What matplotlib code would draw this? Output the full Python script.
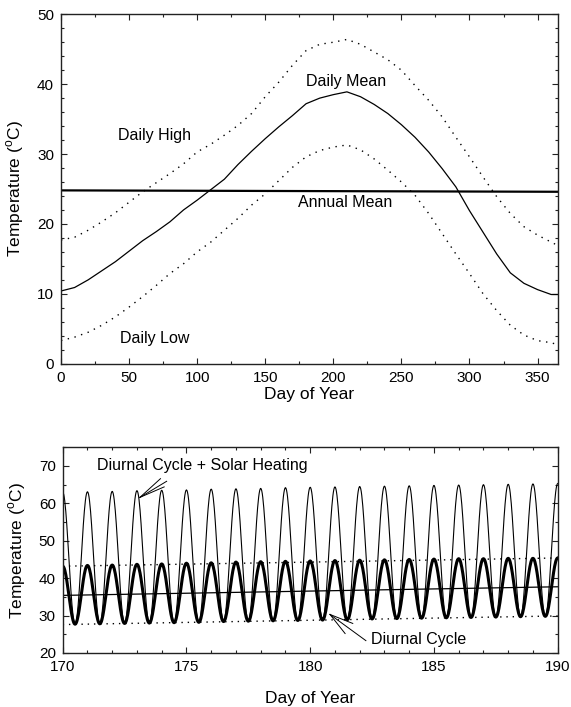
import numpy as np
import matplotlib.pyplot as plt
from matplotlib.ticker import MultipleLocator

plt.rcParams['font.family'] = ['Liberation Sans', 'DejaVu Sans']
plt.rcParams['mathtext.fontset'] = 'custom'
plt.rcParams['mathtext.rm'] = 'Liberation Sans'

# annual cycle (top), values read every 10 days
day = [0, 10, 20, 30, 40, 50, 60, 70, 80, 90, 100, 110, 120, 130, 140, 150, 160, 170, 180,
       190, 200, 210, 220, 230, 240, 250, 260, 270, 280, 290, 300, 310, 320, 330, 340, 350, 360, 365]
daily_mean = [10.4, 10.9, 12.0, 13.3, 14.6, 16.1, 17.6, 18.9, 20.3, 22.0, 23.4, 24.9, 26.4,
              28.5, 30.4, 32.2, 33.9, 35.5, 37.2, 38.0, 38.5, 38.9, 38.2, 37.1, 35.8, 34.2,
              32.4, 30.3, 27.9, 25.3, 21.9, 18.8, 15.7, 13.0, 11.5, 10.6, 9.9, 9.9]
daily_high = [17.7, 18.1, 19.1, 20.3, 21.6, 23.1, 24.6, 25.9, 27.2, 28.6, 30.3, 31.4, 32.7,
              34.1, 35.8, 38.2, 40.3, 42.7, 44.8, 45.7, 46.0, 46.4, 45.7, 44.6, 43.5, 42.0,
              39.8, 37.7, 35.3, 32.4, 29.6, 26.7, 23.9, 21.5, 19.6, 18.4, 17.4, 16.9]
daily_low = [3.3, 3.8, 4.5, 5.5, 6.7, 8.1, 9.6, 11.2, 12.9, 14.3, 16.0, 17.4, 19.1, 20.8,
             22.7, 24.3, 26.2, 28.1, 29.6, 30.5, 31.0, 31.3, 30.6, 29.3, 27.7, 26.0, 24.1,
             21.5, 18.6, 15.7, 12.9, 10.0, 7.6, 5.5, 4.1, 3.3, 3.0, 2.7]
annual_day = [0, 365]
annual_mean = [24.8, 24.6]

# diurnal cycle (bottom): peaks at whole days, troughs at half days
peak_day = list(range(170, 191))
trough_day = [d + 0.5 for d in range(170, 190)]
cycle_high = [43.2, 43.4, 43.5, 43.7, 43.8, 44.0, 44.1, 44.3, 44.4, 44.5, 44.6,
              44.7, 44.8, 44.9, 45.0, 45.1, 45.2, 45.2, 45.3, 45.3, 45.4]
cycle_low = [27.7, 27.8, 27.9, 28.0, 28.1, 28.2, 28.4, 28.5, 28.6, 28.7,
             28.8, 28.9, 29.1, 29.2, 29.3, 29.4, 29.5, 29.6, 29.7, 29.8]
solar_high = [63.0, 63.1, 63.2, 63.4, 63.5, 63.6, 63.8, 63.9, 64.0, 64.2, 64.3,
              64.4, 64.5, 64.6, 64.7, 64.8, 64.9, 65.0, 65.1, 65.2, 65.3]
line_day = [170, 190]
high_line = [43.2, 45.4]
low_line = [27.6, 29.9]
mean_line = [35.4, 37.7]


def cos_join(ts, vs, n=24):
    # smooth half-cosine between successive extremes
    xs, ys = [], []
    for i in range(len(ts) - 1):
        s = np.linspace(0, 1, n, endpoint=False)
        w = (1 - np.cos(np.pi * s)) / 2
        xs.append(ts[i] + (ts[i + 1] - ts[i]) * s)
        ys.append(vs[i] + (vs[i + 1] - vs[i]) * w)
    xs.append([ts[-1]])
    ys.append([vs[-1]])
    return np.concatenate(xs), np.concatenate(ys)


ext_t = []
ext_thick = []
ext_thin = []
for i in range(len(peak_day)):
    ext_t.append(peak_day[i])
    ext_thick.append(cycle_high[i])
    ext_thin.append(solar_high[i])
    if i < len(trough_day):
        ext_t.append(trough_day[i])
        ext_thick.append(cycle_low[i])
        ext_thin.append(cycle_low[i])

dot = (0, (1, 4))
ink = '#222222'

fig = plt.figure(figsize=(5.71, 7.07), dpi=100)

ax1 = fig.add_axes([0.1068, 0.4856, 0.8704, 0.4942])
ax1.plot(day, daily_high, color='black', lw=1.0, ls=dot)
ax1.plot(day, daily_low, color='black', lw=1.0, ls=dot)
ax1.plot(day, daily_mean, color='black', lw=0.9)
ax1.plot(annual_day, annual_mean, color='black', lw=1.6)
ax1.set_xlim(0, 365)
ax1.set_ylim(0, 50)
ax1.xaxis.set_major_locator(MultipleLocator(50))
ax1.xaxis.set_minor_locator(MultipleLocator(25))
ax1.yaxis.set_major_locator(MultipleLocator(10))
ax1.yaxis.set_minor_locator(MultipleLocator(2))
ax1.text(42, 32.7, 'Daily High', fontsize=11.5, va='center')
ax1.text(43, 3.6, 'Daily Low', fontsize=11.5, va='center')
ax1.text(209, 40.4, 'Daily Mean', fontsize=11.5, ha='center', va='center')
ax1.text(209, 23.0, 'Annual Mean', fontsize=11.5, ha='center', va='center')
ax1.set_xlabel('Day of Year', fontsize=12.5, labelpad=2)
ax1.set_ylabel(r'Temperature ($^{\rm o}$C)', fontsize=12.5, labelpad=8)

ax2 = fig.add_axes([0.1098, 0.0764, 0.8669, 0.291])
tx, ty = cos_join(ext_t, ext_thin)
ax2.plot(tx, ty, color='black', lw=0.8)
kx, ky = cos_join(ext_t, ext_thick)
ax2.plot(kx, ky, color='black', lw=2.2)
ax2.plot(line_day, high_line, color='black', lw=1.0, ls=(0, (1, 3.5)))
ax2.plot(line_day, low_line, color='black', lw=1.0, ls=(0, (1, 3.5)))
ax2.plot(line_day, mean_line, color='black', lw=0.9)
ax2.set_xlim(170, 190)
ax2.set_ylim(20, 75)
ax2.xaxis.set_major_locator(MultipleLocator(5))
ax2.xaxis.set_minor_locator(MultipleLocator(1))
ax2.yaxis.set_major_locator(MultipleLocator(10))
ax2.yaxis.set_minor_locator(MultipleLocator(5))

ax2.text(171.37, 70.0, 'Diurnal Cycle + Solar Heating', fontsize=11.5, va='center')
for ex, ey in [(173.95, 66.6), (174.2, 65.9), (174.1, 64.4)]:
    ax2.plot([173.12, ex], [61.6, ey], color='black', lw=0.7)
ax2.text(182.44, 23.6, 'Diurnal Cycle', fontsize=11.5, va='center')
for ex, ey in [(181.72, 27.9), (181.41, 25.2), (182.25, 23.3)]:
    ax2.plot([180.8, ex], [30.3, ey], color='black', lw=0.7)

ax2.set_xlabel('Day of Year', fontsize=12.5, labelpad=12)
ax2.set_ylabel(r'Temperature ($^{\rm o}$C)', fontsize=12.5, labelpad=8)

for ax in (ax1, ax2):
    for s in ax.spines.values():
        s.set_color(ink)
        s.set_linewidth(1.0)
    ax.tick_params(which='both', direction='in', top=True, right=True,
                   color=ink, labelsize=11, pad=5)
    ax.tick_params(which='major', length=4, width=0.8)
    ax.tick_params(which='minor', length=2, width=0.8)

fig.savefig('out.png', dpi=100)
